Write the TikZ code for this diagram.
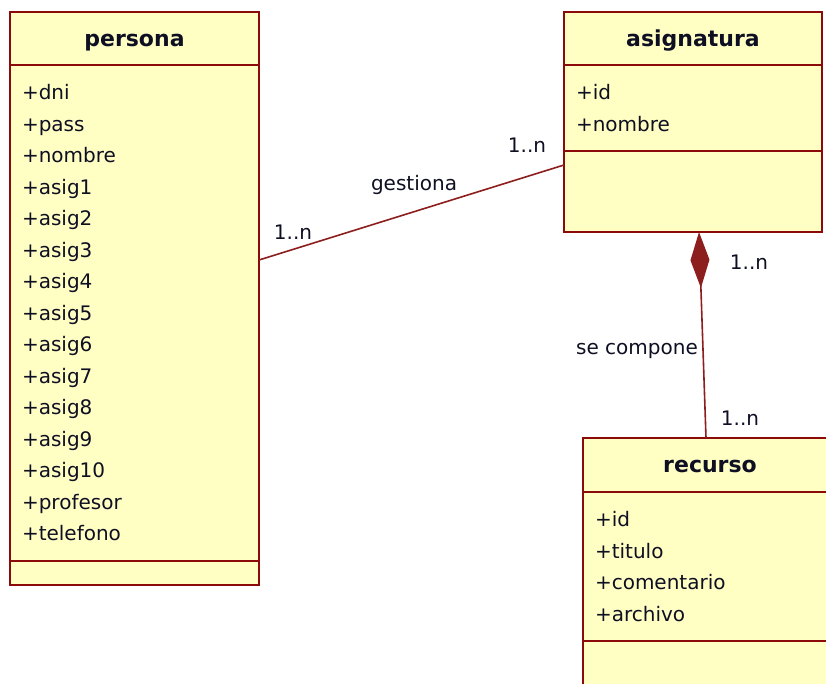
\documentclass[tikz,border=0pt]{standalone}
\usepackage{fontspec}
\setmainfont{DejaVu Sans}
\usepackage{tikz}
\usetikzlibrary{arrows.meta,positioning}

\definecolor{classfill}{RGB}{255,255,196}
\definecolor{classline}{RGB}{140,10,10}
\definecolor{linkline}{RGB}{140,30,30}
\definecolor{classtext}{RGB}{15,15,35}

\begin{document}
\begin{tikzpicture}[x=1pt,y=-1pt,
  part/.style={draw=classline,fill=classfill,line width=1.7pt,inner sep=0pt,outer sep=0pt,text=classtext},
  head/.style={part,text height=15.5pt,text depth=0pt,font=\fontsize{22}{26}\selectfont\bfseries},
  attrs/.style={part,align=left,inner xsep=12pt,font=\fontsize{20}{31.5}\selectfont},
  link/.style={draw=linkline,line width=1.6pt},
  lbl/.style={font=\fontsize{20}{24}\selectfont,text=classtext,inner sep=0pt}]
\useasboundingbox (0,0) rectangle (826,683);
\clip (0,0) rectangle (826,683);
% persona class: name, attributes, empty operations
\node[head,minimum width=249pt,minimum height=53pt,anchor=north west] (persona) at (10,12) {persona};
\node[attrs,minimum width=249pt,text width=225pt,minimum height=496pt,below=0pt of persona] (personaattr)
  {+dni\\+pass\\+nombre\\+asig1\\+asig2\\+asig3\\+asig4\\+asig5\\+asig6\\+asig7\\+asig8\\+asig9\\+asig10\\+profesor\\+telefono};
\node[part,minimum width=249pt,minimum height=24pt,below=0pt of personaattr] (personaops) {};
% asignatura class
\node[head,minimum width=258pt,minimum height=53pt,anchor=north west] (asig) at (564,12) {asignatura};
\node[attrs,minimum width=258pt,text width=234pt,minimum height=86pt,below=0pt of asig] (asigattr)
  {+id\\+nombre};
\node[part,minimum width=258pt,minimum height=81pt,below=0pt of asigattr] (asigops) {};
% recurso class, runs past the page edge
\node[head,minimum width=254pt,minimum height=54pt,anchor=north west] (recurso) at (583,438) {recurso};
\node[attrs,minimum width=254pt,text width=230pt,minimum height=149pt,below=0pt of recurso] (recursoattr)
  {+id\\+titulo\\+comentario\\+archivo};
\node[part,minimum width=254pt,minimum height=80pt,below=0pt of recursoattr] (recursoops) {};
% association persona -- asignatura
\draw[link] ([yshift=53pt]personaattr.east) -- ([yshift=26.5pt]asigops.west);
\node[lbl] (gestmult1) at (293,232) {1..n};
\node[lbl] (gestname) at (414,185) {gestiona};
\node[lbl] (gestmult2) at (527,145) {1..n};
% composition recurso -> asignatura
\draw[link,-{Diamond[length=56pt,width=19pt,fill=linkline]}] ([xshift=-4pt]recurso.north) -- ([xshift=6pt]asigops.south);
\node[lbl] (compmult1) at (749,262) {1..n};
\node[lbl] (compname) at (637,351) {se compone};
\node[lbl] (compmult2) at (740,418) {1..n};
\end{tikzpicture}
\end{document}
